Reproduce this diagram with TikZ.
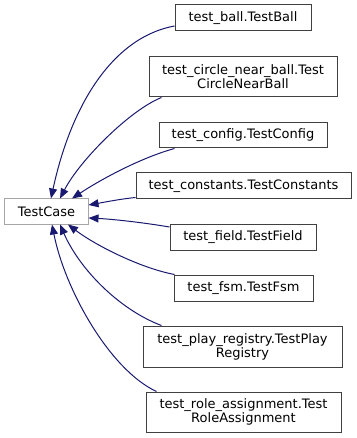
\documentclass[tikz,border=0pt]{standalone}
\usepackage{fontspec}
\setmainfont{DejaVu Sans}
\usepackage{tikz}
\usetikzlibrary{arrows.meta}
\definecolor{edgeBlue}{RGB}{25,25,112}
\newcommand\classFont{\fontsize{13bp}{14bp}\selectfont}
\newcommand\boxColor{black!75}
\newcommand\baseColor{black!35}
\newcommand\boxH{26bp}
\newcommand\boxHH{40bp}
\tikzset{
    classbox/.style={draw=\boxColor, fill=white, line width=1bp, align=center,
        font=\classFont, inner sep=0pt, minimum height=\boxH},
    inherit/.style={draw=edgeBlue, line width=1bp,
        -{Triangle[length=10bp,width=8bp,fill=edgeBlue]}}
}

\begin{document}
\begin{tikzpicture}[x=1bp,y=-1bp]
        \useasboundingbox (0,0) rectangle (356,438);

        % base class
        \node[classbox, draw=\baseColor, minimum width=83bp, minimum height=25bp] (testCase) at (46.5,211.5) {TestCase};

        % derived test classes
        \node[classbox, minimum width=136bp] (testBall) at (243,18) {test\_ball.TestBall};
        \node[classbox, minimum width=188bp, minimum height=\boxHH] (testCircle) at (243,77) {test\_circle\_near\_ball.Test\\CircleNearBall};
        \node[classbox, minimum width=168bp, minimum height=25bp] (testConfig) at (243,135.5) {test\_config.TestConfig};
        \node[classbox, minimum width=215bp] (testConstants) at (243.5,186) {test\_constants.TestConstants};
        \node[classbox, minimum width=146bp] (testField) at (243,237) {test\_field.TestField};
        \node[classbox, minimum width=139bp] (testFsm) at (243.5,288) {test\_fsm.TestFsm};
        \node[classbox, minimum width=199bp, minimum height=41bp] (testPlay) at (242.5,346.5) {test\_play\_registry.TestPlay\\Registry};
        \node[classbox, minimum width=195bp, minimum height=\boxHH] (testRole) at (243.5,412) {test\_role\_assignment.Test\\RoleAssignment};

        % inheritance edges
        \draw[inherit] ([yshift=-8bp]testBall.west) .. controls (110,38) and (70,110) .. ([xshift=4.5bp]testCase.north);
        \draw[inherit] ([xshift=13bp]testCircle.south west) .. controls (130,110) and (80,160) .. ([xshift=13.5bp]testCase.north);
        \draw[inherit] ([xshift=16bp]testConfig.south west) .. controls (140,158) and (100,180) .. ([xshift=25.5bp]testCase.north);
        \draw[inherit] ([yshift=2bp]testConstants.south west) .. controls (120,199) and (100,203) .. ([yshift=6.5bp]testCase.east);
        \draw[inherit] ([yshift=10bp]testField.west) .. controls (140,222) and (110,219) .. ([yshift=-6.5bp]testCase.east);
        \draw[inherit] ([xshift=1bp]testFsm.north west) .. controls (140,268) and (95,245) .. ([xshift=21.5bp]testCase.south);
        \draw[inherit] ([xshift=19bp]testPlay.north west) .. controls (120,310) and (80,270) .. ([xshift=13.5bp]testCase.south);
        \draw[inherit] ([xshift=11bp]testRole.north west) .. controls (110,370) and (65,290) .. ([xshift=5.5bp]testCase.south);
\end{tikzpicture}
\end{document}
